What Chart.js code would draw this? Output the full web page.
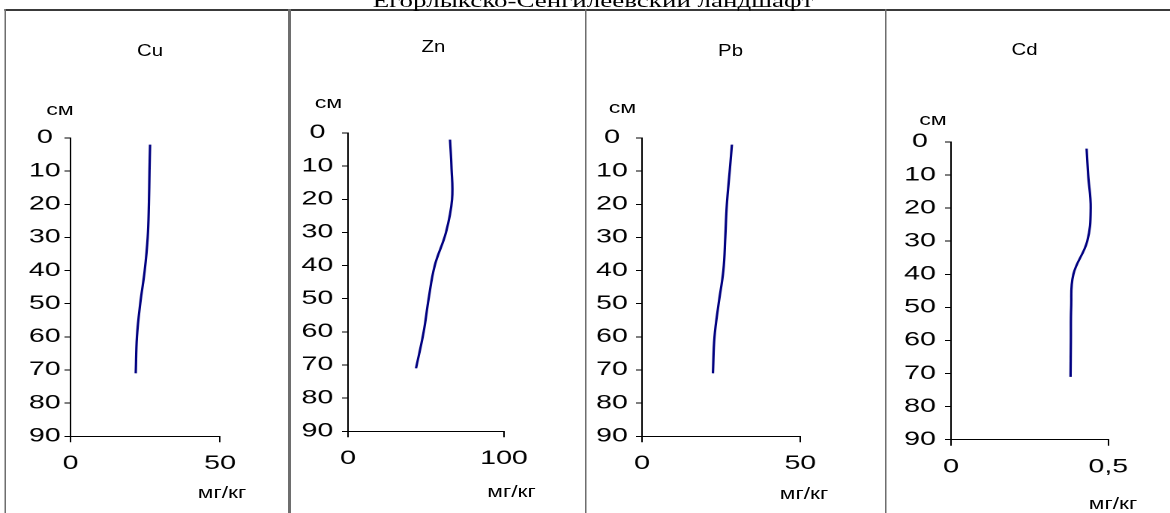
<!DOCTYPE html>
<html><head><meta charset="utf-8">
<script src="https://cdn.jsdelivr.net/npm/chart.js@4.4.1/dist/chart.umd.min.js"></script>
<style>
html,body{margin:0;padding:0;background:#fff;overflow:hidden;width:1170px;height:513px;}
#page{position:absolute;left:0;top:0;width:780px;height:513px;transform:scaleX(1.5);transform-origin:0 0;font-family:"Liberation Sans",Arial,sans-serif;color:#000;}
.t{position:absolute;white-space:nowrap;line-height:1;}
canvas{position:absolute;}
.v{position:absolute;top:9px;height:504px;width:1.33px;background:#6e6e6e;}
#topline{position:absolute;left:3.33px;top:9px;width:780px;height:2px;background:#3a3a3a;}
#ttl{position:absolute;top:-7.6px;transform:translateX(-50%);white-space:nowrap;font-family:"Liberation Serif","Times New Roman",serif;font-size:18px;line-height:18px;}
</style></head><body><div id="page"></div>
<script>
// ---- data ----
const chartTitle = 'Егорлыкско-Сенгилеевский ландшафт';
const elements = ['Cu', 'Zn', 'Pb', 'Cd'];
const depths = [2, 10, 20, 30, 40, 50, 60, 71];            // см
const cuValues = [26.6, 26.4, 26.2, 25.8, 24.8, 23.3, 22.2, 21.8];
const znValues = [65.4, 66.3, 66.7, 62.8, 55.6, 51.7, 48.5, 43.6];
const pbValues = [28.4, 27.7, 26.8, 26.3, 25.7, 24.2, 22.9, 22.4];
const cdValues = [0.431, 0.436, 0.444, 0.433, 0.389, 0.382, 0.381, 0.380];
const xMaxValues = [50, 100, 50, 0.5];
const xTickLabels = [['0', '50'], ['0', '100'], ['0', '50'], ['0', '0,5']];
const depthMin = 0, depthMax = 90, depthStep = 10;
const depthUnit = 'см';
const valueUnit = 'мг/кг';
const seriesValues = [cuValues, znValues, pbValues, cdValues];

// ---- layout (page px) ----
const S = 1.5;
const FONT = '"Liberation Sans", Arial, sans-serif';
const TICKFONT = 19;
const panels = [
  {axisX:70.7,  xEnd:220.3,  y0:137.7, y90:436, labelOff:25.7, title:[150,50],  cm:[60.5,109],   unit:[222,491.7]},
  {axisX:347.3, xEnd:503.3,  y0:132.7, y90:431, labelOff:30.6, title:[433,46],  cm:[329,101.7],  unit:[511,490.7]},
  {axisX:641.7, xEnd:800,    y0:137.7, y90:436, labelOff:30,   title:[730,50],  cm:[622.5,106.7],unit:[804.5,493]},
  {axisX:951,   xEnd:1108.3, y0:142.3, y90:440, labelOff:31,   title:[1025,49], cm:[932.5,119.3],unit:[1113.5,503.3]}
];
const dividers = [5.5, 289.5, 585.5, 885.5];

const pageEl = document.getElementById('page');
const topLine = document.createElement('div'); topLine.id = 'topline'; pageEl.appendChild(topLine);
dividers.forEach(x => { const d = document.createElement('div'); d.className = 'v'; d.style.left = (x / S - 0.67) + 'px'; pageEl.appendChild(d); });
const ttl = document.createElement('div'); ttl.id = 'ttl'; ttl.textContent = chartTitle; ttl.style.left = (593 / S) + 'px'; pageEl.appendChild(ttl);

function addText(txt, x, y, size, k) {
  const d = document.createElement('div'); d.className = 't'; d.textContent = txt;
  d.style.left = (x / S) + 'px'; d.style.top = y + 'px'; d.style.fontSize = size + 'px';
  d.style.transform = 'translate(-50%,-50%) scaleX(' + k + ')';
  pageEl.appendChild(d);
}

const mctx = document.createElement('canvas').getContext('2d');
mctx.font = TICKFONT + 'px ' + FONT;
const widest = mctx.measureText('90').width;

const LEFTW = 45, TOPP = 20, YTICK = 4;
panels.forEach((p, k) => {
  addText(elements[k], p.title[0], p.title[1], 17, 0.8);
  addText(depthUnit, p.cm[0], p.cm[1], 17, 0.91);
  addText(valueUnit, p.unit[0], p.unit[1], 17, 0.89);

  const ax = p.axisX / S, xe = p.xEnd / S;
  const W = Math.ceil((xe - ax) + LEFTW + 25);
  const H = Math.ceil((p.y90 - p.y0) + TOPP + 40);
  const padR = W - LEFTW - (xe - ax);
  const bottomH = H - TOPP - (p.y90 - p.y0);
  const cv = document.createElement('canvas');
  cv.width = W; cv.height = H;
  cv.style.left = (ax - LEFTW) + 'px';
  cv.style.top = (p.y0 - TOPP) + 'px';
  cv.style.width = W + 'px'; cv.style.height = H + 'px';
  pageEl.appendChild(cv);
  const ypad = p.labelOff / S - YTICK - widest / 2;
  const vals = seriesValues[k];
  new Chart(cv, {
    type: 'scatter',
    data: { datasets: [{
      data: depths.map((d, i) => ({ x: vals[i], y: d })),
      showLine: true, borderColor: '#000080', borderWidth: 1.6, pointRadius: 0, tension: 0.4, fill: false
    }]},
    options: {
      responsive: false, animation: false, devicePixelRatio: 2,
      layout: { padding: { top: TOPP, right: padR, left: 0, bottom: 0 } },
      plugins: { legend: { display: false }, tooltip: { enabled: false }, title: { display: false } },
      scales: {
        x: {
          type: 'linear', min: 0, max: xMaxValues[k],
          ticks: { stepSize: xMaxValues[k], color: '#000', font: { size: TICKFONT, family: FONT }, padding: 10,
                   maxRotation: 0, autoSkip: false,
                   callback: (v, i) => xTickLabels[k][i] !== undefined ? xTickLabels[k][i] : v },
          grid: { drawOnChartArea: false, drawTicks: true, tickLength: 6, color: '#000', lineWidth: 1 },
          border: { color: '#000', width: 1 },
          afterFit: s => { s.height = bottomH; }
        },
        y: {
          type: 'linear', reverse: true, min: depthMin, max: depthMax,
          ticks: { stepSize: depthStep, color: '#000', font: { size: TICKFONT, family: FONT }, padding: ypad, crossAlign: 'center', autoSkip: false },
          grid: { drawOnChartArea: false, drawTicks: true, tickLength: YTICK, color: '#000', lineWidth: 1 },
          border: { color: '#000', width: 1 },
          afterFit: s => { s.width = LEFTW; }
        }
      }
    }
  });
});
</script></body></html>
